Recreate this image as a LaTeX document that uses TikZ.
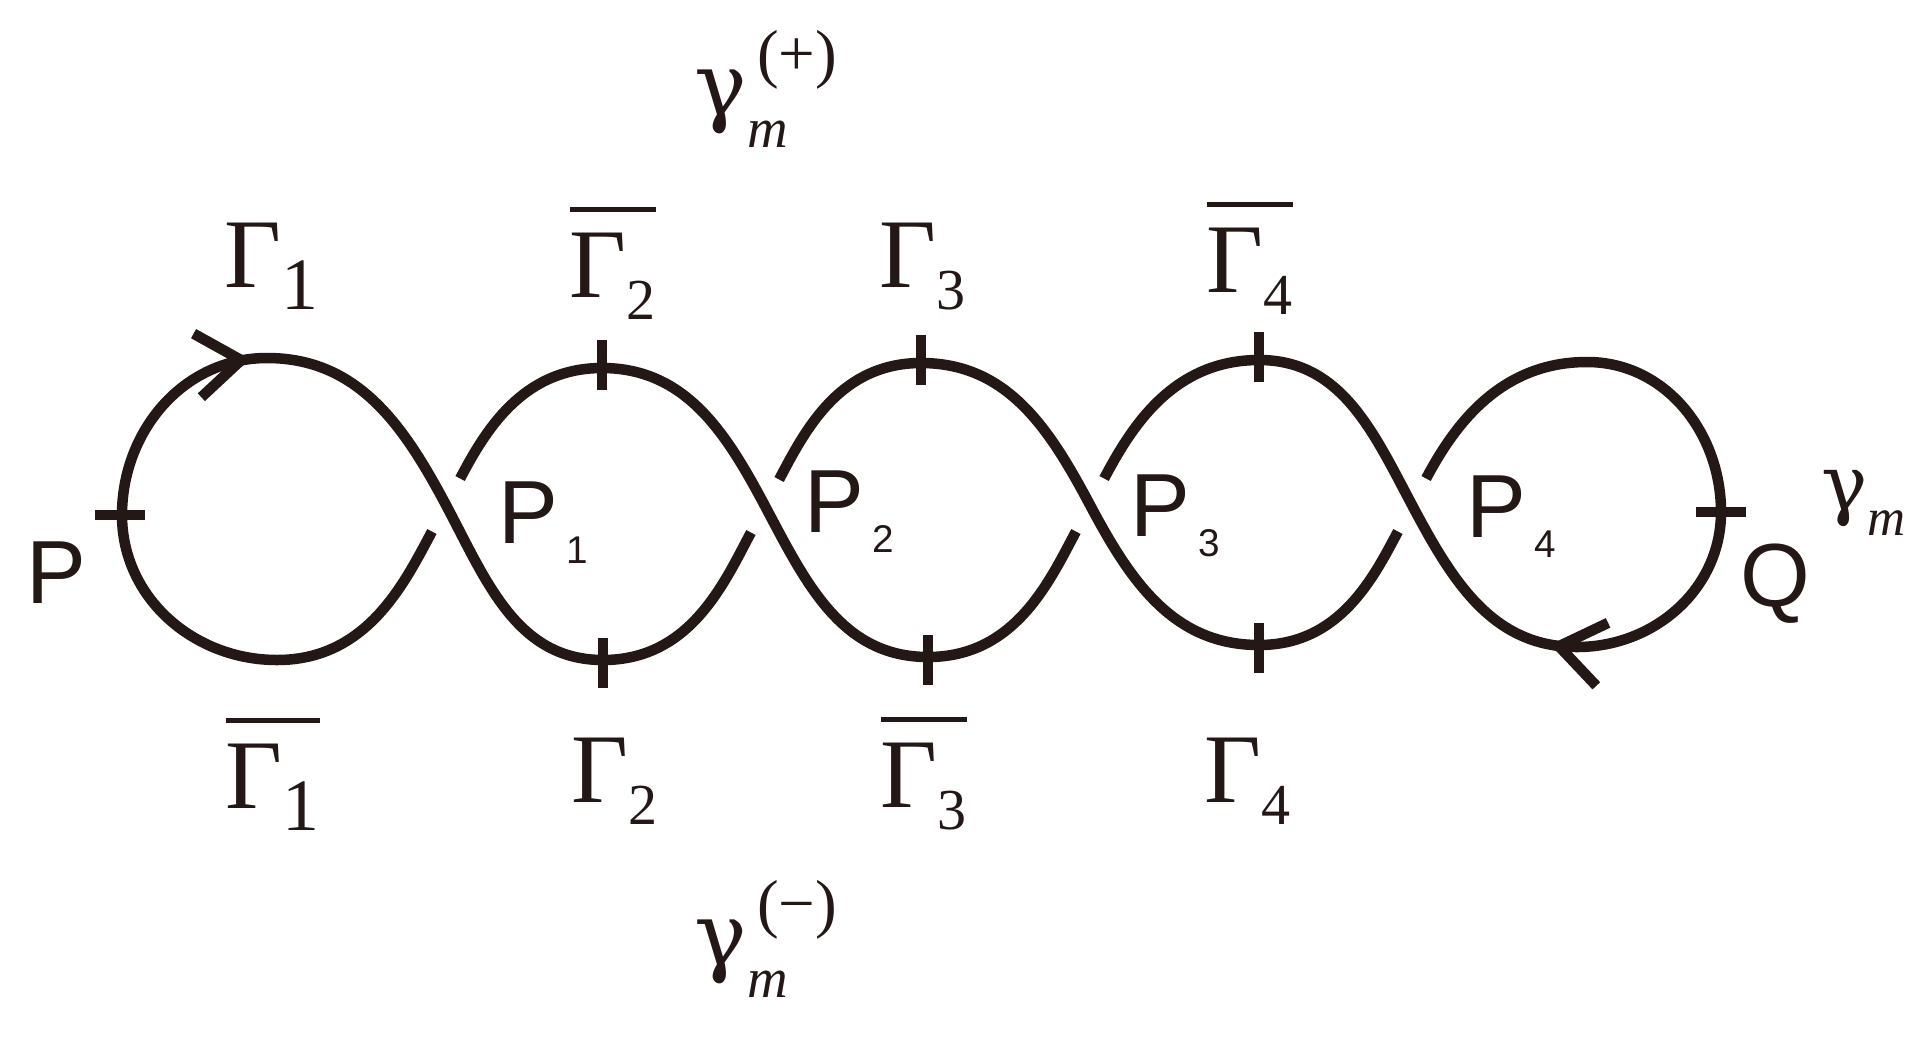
\documentclass[tikz,border=0pt]{standalone}
\usepackage{fontspec}
\setmainfont{Liberation Serif}
\newfontfamily\arialfont{Liberation Sans}
\newfontfamily\grkfont{DejaVu Serif}
\usetikzlibrary{arrows.meta,decorations.markings}

\definecolor{ink}{RGB}{35,24,21}

% subscripts and bars for the labels
\newcommand\gsub[2][16.5]{\raisebox{-0.22cm}{\fontsize{#1}{#1}\selectfont #2}}
\newcommand\psub[1]{\kern0.08cm\raisebox{-0.2cm}{\fontsize{11}{11}\selectfont #1}}
\newcommand\barred[1]{\vbox{\hrule height 1.4pt\kern 5.8pt\hbox{#1}}}
\newcommand\gampm[1]{{\grkfont\fontsize{25}{27}\selectfont γ}\rlap{\raisebox{-0.32cm}{\fontsize{16}{16}\selectfont\itshape m}}\raisebox{0.39cm}{\kern0.1cm\fontsize{18.5}{18.5}\selectfont(#1)}}

\begin{document}
\begin{tikzpicture}[
    x=0.01cm, y=0.01cm,
    strand/.style={draw=ink, line width=0.105cm},
    tickmark/.style={draw=ink, line width=0.105cm},
    chev/.tip={Straight Barb[length=0.44cm, width=0.64cm]},
    arrowmark/.style={postaction={decorate, decoration={markings, mark=at position #1 with {\arrow[ink]{chev}}}}},
    glbl/.style={anchor=base west, inner sep=0pt, text=ink, font=\fontsize{28}{30}\selectfont},
    plbl/.style={anchor=base west, inner sep=0pt, text=ink, font=\arialfont\fontsize{25.5}{27}\selectfont}
]
\useasboundingbox (0,0) rectangle (1931,1038);

% points of the curve
\coordinate (p) at (122,523);
\coordinate (t0) at (267,680);
\coordinate (b0) at (277,378);
\coordinate (x1) at (446,533);
\coordinate (t1) at (602,670);
\coordinate (b1) at (603,378);
\coordinate (x2) at (765,532);
\coordinate (t2) at (921,675);
\coordinate (b2) at (928,381);
\coordinate (x3) at (1090,533);
\coordinate (t3) at (1259,678);
\coordinate (b3) at (1259,393);
\coordinate (x4) at (1412,533);
\coordinate (t4) at (1587,676);
\coordinate (q) at (1721,526);
\coordinate (b4) at (1577,391);

% end loops
\draw[strand, arrowmark=-0.17cm] (b0) to[out=180,in=-90] (p) to[out=90,in=180] (t0);
\draw[strand] (t4) to[out=0,in=90] (q) to[out=-90,in=0] (b4);

% strands going over
\draw[strand] (t0) to[out=0,in=118] (x1) to[out=-62,in=180] (b1);
\draw[strand] (t1) to[out=0,in=118] (x2) to[out=-62,in=180] (b2);
\draw[strand] (t2) to[out=0,in=118] (x3) to[out=-62,in=180] (b3);
\draw[strand, arrowmark=0.27cm] (b4) to[out=180,in=-62] (x4) to[out=118,in=0] (t3);

% strands going under
\foreach \a/\c/\b in {b0/x1/t1, b1/x2/t2, b2/x3/t3, b3/x4/t4} {
  \draw[strand, shorten >=0.3cm] (\a) to[out=0,in=-118] (\c);
  \draw[strand, shorten <=0.3cm] (\c) to[out=62,in=180] (\b);
}

% ticks
\foreach \c in {t1,t2,t3} \draw[tickmark] (\c) ++(0,-22) -- ++(0,50);
\foreach \c in {b1,b2,b3} \draw[tickmark] (\c) ++(0,22) -- ++(0,-50);
\draw[tickmark] (p) ++(23,0) -- ++(-50,0);
\draw[tickmark] (q) ++(-25,0) -- ++(50,0);

% labels
\node[plbl] (nP) at (26,435) {P};
\node[plbl] (nP1) at (498,495) {P\psub{1}};
\node[plbl] (nP2) at (804,506) {P\psub{2}};
\node[plbl] (nP3) at (1130,502) {P\psub{3}};
\node[plbl] (nP4) at (1466,501) {P\psub{4}};
\node[plbl] (nQ) at (1740,432) {Q};

\node[glbl] (nG1) at (224,751) {Γ\gsub[21]{1}};
\node[glbl] (nG2b) at (569,741) {\barred{Γ\gsub{2}}};
\node[glbl] (nG3) at (879,751) {Γ\gsub{3}};
\node[glbl] (nG4b) at (1206,746) {\barred{Γ\gsub{4}}};
\node[glbl] (nG1b) at (225,230) {\barred{Γ\gsub[21]{1}}};
\node[glbl] (nG2) at (571,236) {Γ\gsub{2}};
\node[glbl] (nG3b) at (880,231) {\barred{Γ\gsub{3}}};
\node[glbl] (nG4) at (1204,236) {Γ\gsub{4}};

\node[glbl] (ngp) at (694,923) {\gampm{+}};
\node[glbl] (ngm) at (694,73) {\gampm{−}};
\node[glbl] (ng) at (1821,528) {{\grkfont\fontsize{22}{24}\selectfont γ}\raisebox{-0.25cm}{\fontsize{15}{15}\selectfont\itshape m}};
\end{tikzpicture}
\end{document}
